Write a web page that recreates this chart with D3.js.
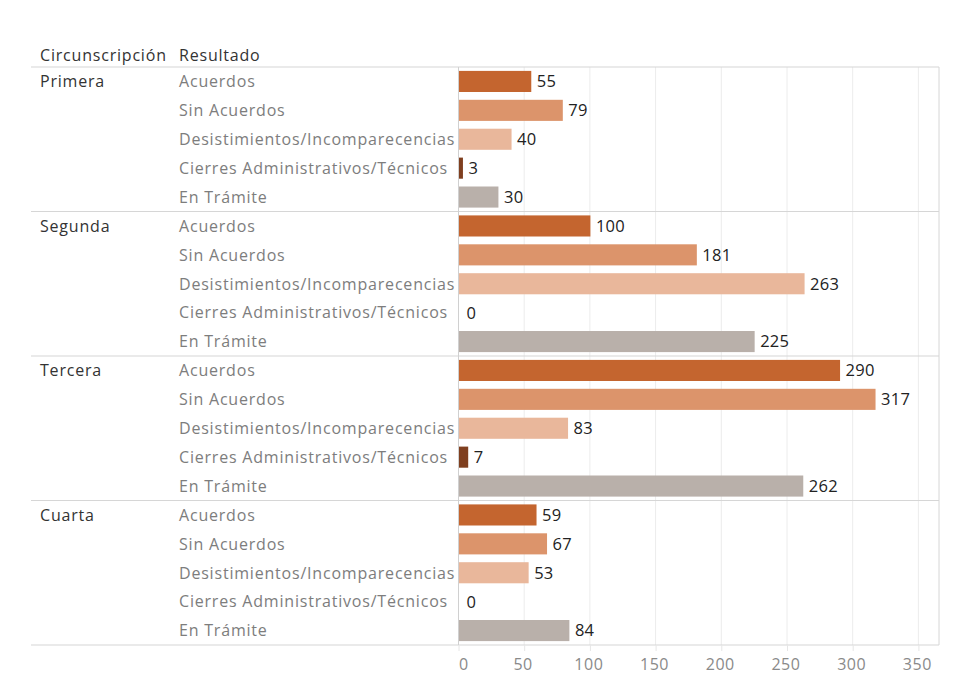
<!DOCTYPE html>
<html><head><meta charset="utf-8">
<script src="https://cdn.jsdelivr.net/npm/d3@7"></script>
<style>body{margin:0;background:#fff;} svg{display:block;}</style>
</head><body><svg id="c" width="973" height="689"></svg>
<script>
const circunscripciones = ["Primera","Segunda","Tercera","Cuarta"];
const resultados = ["Acuerdos","Sin Acuerdos","Desistimientos/Incomparecencias","Cierres Administrativos/Técnicos","En Trámite"];
const primera = [55,79,40,3,30];
const segunda = [100,181,263,0,225];
const tercera = [290,317,83,7,262];
const cuarta = [59,67,53,0,84];
const tickValues = [0,50,100,150,200,250,300,350];
const colores = ["#c4652f","#dc946b","#e9b79b","#7f3f1f","#b9b0aa"];

const series = [primera,segunda,tercera,cuarta];
const data = [];
circunscripciones.forEach((c,i)=>resultados.forEach((r,j)=>data.push({c,r,v:series[i][j],j,key:c+"|"+r})));

const svg = d3.select("#c");
const font = "'Open Sans', sans-serif";
const ls = "0.8px";
const pLeft = 458.5, pRight = 939, pTop = 67, pBottom = 645;
const x = d3.scaleLinear().domain([0,366]).range([pLeft, pLeft+1.314*366]);
const y = d3.scaleBand().domain(data.map(d=>d.key)).range([pTop,pBottom]).paddingInner(0.27).paddingOuter(0.135);
const color = d3.scaleOrdinal().domain(resultados).range(colores);

// gridlines
svg.append("g").selectAll("line").data(tickValues.filter(t=>t>0)).join("line")
  .attr("x1",d=>x(d)).attr("x2",d=>x(d)).attr("y1",pTop).attr("y2",pBottom)
  .attr("stroke","#ececec").attr("stroke-width",1);

// group separators
const groupH = (pBottom-pTop)/circunscripciones.length;
svg.append("g").selectAll("line").data(d3.range(circunscripciones.length+1)).join("line")
  .attr("x1",31).attr("x2",pRight).attr("y1",d=>pTop+d*groupH).attr("y2",d=>pTop+d*groupH)
  .attr("stroke","#d6d6d6").attr("stroke-width",1.2);
// axis line and right border
svg.append("line").attr("x1",pLeft).attr("x2",pLeft).attr("y1",pTop).attr("y2",pBottom).attr("stroke","#d0d0d0");
svg.append("line").attr("x1",pRight).attr("x2",pRight).attr("y1",pTop).attr("y2",pBottom).attr("stroke","#d6d6d6");

// bars
svg.append("g").selectAll("rect").data(data).join("rect")
  .attr("x",x(0)+0.5).attr("y",d=>y(d.key)).attr("height",y.bandwidth())
  .attr("width",d=>Math.max(0,x(d.v)-x(0)))
  .attr("fill",d=>color(d.r));

// value labels
svg.append("g").selectAll("text").data(data).join("text")
  .attr("x",d=>x(d.v)+ (d.v>0?6:8)).attr("y",d=>y(d.key)+y.bandwidth()/2)
  .attr("dy","0.36em").attr("font-family",font).attr("font-size",16.5).attr("fill","#222")
  .attr("letter-spacing","0.3px")
  .text(d=>d.v);

// result labels
svg.append("g").selectAll("text").data(data).join("text")
  .attr("x",179).attr("y",d=>y(d.key)+y.bandwidth()/2)
  .attr("dy","0.36em").attr("font-family",font).attr("font-size",16).attr("fill","#7d7d7d")
  .attr("letter-spacing",ls)
  .text(d=>d.r);

// group labels
svg.append("g").selectAll("text").data(circunscripciones).join("text")
  .attr("x",40).attr("y",(d,i)=>y(d+"|"+resultados[0])+y.bandwidth()/2)
  .attr("dy","0.36em").attr("font-family",font).attr("font-size",16).attr("fill","#333")
  .attr("letter-spacing",ls)
  .text(d=>d);

// headers
svg.append("text").attr("x",40).attr("y",55).attr("dy","0.36em").attr("font-family",font).attr("font-size",16).attr("fill","#333").attr("letter-spacing",ls).text("Circunscripción");
svg.append("text").attr("x",179).attr("y",55).attr("dy","0.36em").attr("font-family",font).attr("font-size",16).attr("fill","#333").attr("letter-spacing",ls).text("Resultado");

// x axis
const axis = d3.axisBottom(x).tickValues(tickValues).tickSize(6).tickPadding(8);
const ax = svg.append("g").attr("transform",`translate(0,${pBottom})`).call(axis);
ax.select(".domain").remove();
ax.selectAll(".tick line").attr("stroke","#e6e6e6");
ax.selectAll(".tick text").attr("font-family",font).attr("font-size",16).attr("fill","#8a8a8a")
  .attr("letter-spacing","0.5px").attr("dx",d=>d===0?"0.3em":"-0.1em");
</script></body></html>
